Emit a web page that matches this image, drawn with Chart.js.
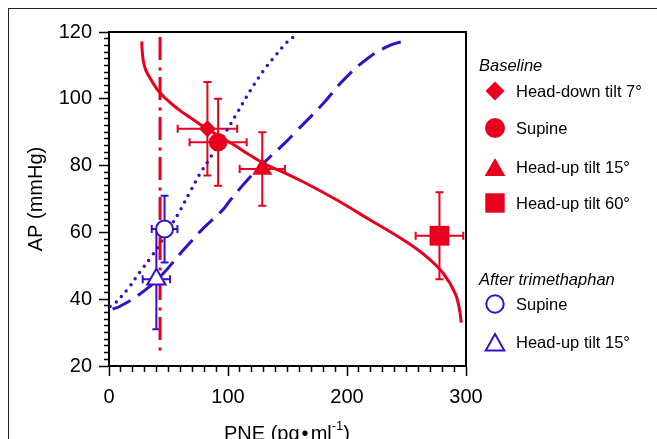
<!DOCTYPE html>
<html>
<head>
<meta charset="utf-8">
<script src="https://cdn.jsdelivr.net/npm/chart.js@4/dist/chart.umd.min.js"></script>
<style>
  body { margin: 0; background: #fff; }
  #wrap { position: relative; width: 657px; height: 439px; overflow: hidden; font-family: "Liberation Sans", Arial, sans-serif; }
  #frame { position: absolute; left: 8px; top: 8px; width: 800px; height: 600px; border-left: 1.5px solid #222; border-top: 1.5px solid #222; }
  canvas { position: absolute; left: 0; top: 0; }
  .lg { position: absolute; font-size: 16.5px; color: #000; white-space: nowrap; line-height: 20px; transform: translateY(-50%); }
  .hd { font-style: italic; }
  .mk { position: absolute; width: 22px; height: 22px; }
  #xtitle { position: absolute; left: 187px; width: 200px; top: 420px; text-align: center; font-size: 20px; white-space: nowrap; }
  #xtitle .dot { margin: 0 2px; }
  #xtitle sup { font-size: 13px; position: relative; top: -2px; }
</style>
</head>
<body>
<div id="wrap">
  <div id="frame"></div>
  <canvas id="chart" width="657" height="439"></canvas>
  <div id="xtitle">PNE (pg<span class="dot">•</span>ml<sup>-1</sup>)</div>
  <div id="legend"></div>
</div>
<script>
const RED = '#e8001e';
const BLUE = '#3510c8';

// baseline measurements (mean, error)
const baseLabels = ['Head-down tilt 7°', 'Supine', 'Head-up tilt 15°', 'Head-up tilt 60°'];
const basePNE = [82.7, 91.7, 128.8, 277.7];
const basePNEerr = [25, 24, 19, 20];
const baseAP = [91, 87, 79, 59];
const baseAPerr = [14, 13, 11, 13];

// after trimethaphan
const trimLabels = ['Supine', 'Head-up tilt 15°'];
const trimPNE = [46.7, 39.8];
const trimPNEerr = [10.8, 11.5];
const trimAP = [61, 46];
const trimAPerr = [10, 15];

// fitted curves
const redCurvePNE = [27.5, 28, 29, 31, 34.5, 43, 57, 71, 81, 104.5, 118.6, 132, 146.6, 163.4, 191.5, 219.5, 247.5, 267, 281, 291, 294.5, 296];
const redCurveAP = [117.2, 114, 111, 108.5, 106.2, 101.7, 97.2, 93.7, 91.3, 86.3, 83.1, 80.3, 78, 75.1, 69.7, 63.7, 57.7, 52.7, 47.7, 41.7, 37, 33];
const thresholdPNE = [42.9, 42.9];
const thresholdAP = [118.5, 24.5];
const dottedPNE = [1, 3.6, 16, 26, 34.5, 43, 58, 68, 76.5, 86.4, 99, 107.4, 118.6, 129.8, 141, 149.5, 159.2];
const dottedAP = [37.8, 38.2, 43.2, 48.2, 52.2, 56.7, 65.5, 72.1, 77.6, 83.1, 90.6, 95.6, 102.4, 108.4, 113.4, 116.9, 119.6];
const dashedPNE = [3, 9.3, 24.6, 42.9, 62.5, 80, 96, 102, 118.6, 135, 147, 158, 180, 197, 217, 236, 250.4];
const dashedAP = [37, 37.9, 41.2, 46.7, 54.7, 61.5, 66.9, 69.7, 76.6, 82.5, 86.5, 90.5, 98.6, 105.6, 112, 116, 117.5];

const yTicks = [20, 40, 60, 80, 100, 120];
const xTicks = [0, 100, 200, 300];

function pts(xs, ys) {
    return xs.map(function(x, i) { return {x: x, y: ys[i]}; });
}

const baseStyles = [
    {pointStyle: 'rectRot', radius: 8.5},
    {pointStyle: 'circle', radius: 9.3},
    {pointStyle: 'triangle', radius: 11.5},
    {pointStyle: 'rect', radius: 14}
];
const trimStyles = [
    {pointStyle: 'circle', radius: 8.5},
    {pointStyle: 'triangle', radius: 10.5}
];

let datasets = [];
baseLabels.forEach(function(lab, i) {
    datasets.push({
        label: 'Baseline ' + lab,
        data: [{x: basePNE[i], y: baseAP[i]}],
        showLine: false,
        pointStyle: baseStyles[i].pointStyle,
        pointRadius: baseStyles[i].radius,
        pointBackgroundColor: RED,
        pointBorderColor: RED,
        pointBorderWidth: 0,
        order: 1
    });
});
trimLabels.forEach(function(lab, i) {
    datasets.push({
        label: 'Trimethaphan ' + lab,
        data: [{x: trimPNE[i], y: trimAP[i]}],
        showLine: false,
        pointStyle: trimStyles[i].pointStyle,
        pointRadius: trimStyles[i].radius,
        pointBackgroundColor: '#fff',
        pointBorderColor: BLUE,
        pointBorderWidth: 2,
        order: 1
    });
});
datasets.push({
    label: 'red curve', data: pts(redCurvePNE, redCurveAP), showLine: true,
    borderColor: RED, borderWidth: 3, pointRadius: 0, tension: 0.4, order: 2
});
datasets.push({
    label: 'threshold', data: pts(thresholdPNE, thresholdAP), showLine: true,
    borderColor: RED, borderWidth: 3, borderDash: [23, 7.5, 3, 6.5], pointRadius: 0, order: 3
});
datasets.push({
    label: 'dotted', data: pts(dottedPNE, dottedAP), showLine: true,
    borderColor: BLUE, borderWidth: 3.5, borderDash: [0, 7.6], borderCapStyle: 'round',
    pointRadius: 0, tension: 0.4, order: 3
});
datasets.push({
    label: 'dashed', data: pts(dashedPNE, dashedAP), showLine: true,
    borderColor: BLUE, borderWidth: 3, borderDash: [20, 9], pointRadius: 0, tension: 0.4, order: 3
});

// error bars with caps, under the markers
const errorBars = {
    id: 'errorBars',
    beforeDatasetsDraw(chart) {
        const ctx = chart.ctx;
        const xs = chart.scales.x, ys = chart.scales.y;
        function bar(x, y, ex, ey, color) {
            const px = xs.getPixelForValue(x), py = ys.getPixelForValue(y);
            const x1 = xs.getPixelForValue(x - ex), x2 = xs.getPixelForValue(x + ex);
            const y1 = ys.getPixelForValue(y + ey), y2 = ys.getPixelForValue(y - ey);
            const c = 4;
            ctx.save();
            ctx.strokeStyle = color;
            ctx.lineWidth = 2;
            ctx.beginPath();
            ctx.moveTo(x1, py); ctx.lineTo(x2, py);
            ctx.moveTo(px, y1); ctx.lineTo(px, y2);
            ctx.moveTo(x1, py - c); ctx.lineTo(x1, py + c);
            ctx.moveTo(x2, py - c); ctx.lineTo(x2, py + c);
            ctx.moveTo(px - c, y1); ctx.lineTo(px + c, y1);
            ctx.moveTo(px - c, y2); ctx.lineTo(px + c, y2);
            ctx.stroke();
            ctx.restore();
        }
        basePNE.forEach(function(v, i) { bar(v, baseAP[i], basePNEerr[i], baseAPerr[i], RED); });
        trimPNE.forEach(function(v, i) { bar(v, trimAP[i], trimPNEerr[i], trimAPerr[i], BLUE); });
    },
    afterDraw(chart) {
        // top and right edges of the plot box
        const a = chart.chartArea, ctx = chart.ctx;
        ctx.save();
        ctx.strokeStyle = '#000';
        ctx.lineWidth = 2;
        ctx.beginPath();
        ctx.moveTo(a.left, a.top); ctx.lineTo(a.right, a.top); ctx.lineTo(a.right, a.bottom);
        ctx.stroke();
        ctx.restore();
    }
};

const tickFont = {family: '"Liberation Sans", Arial, sans-serif', size: 20};

const chart = new Chart(document.getElementById('chart'), {
    type: 'scatter',
    data: {datasets: datasets},
    plugins: [errorBars],
    options: {
        responsive: false,
        animation: false,
        devicePixelRatio: 1,
        layout: {padding: {left: 0, top: 32, right: 191, bottom: 0}},
        plugins: {legend: {display: false}, tooltip: {enabled: false}},
        scales: {
            x: {
                type: 'linear', min: 0, max: 300,
                ticks: {
                    stepSize: 10, autoSkip: false, maxRotation: 0, padding: 9,
                    color: '#000', font: tickFont,
                    callback: function(v) { return xTicks.includes(v) ? v : ''; }
                },
                grid: {
                    drawOnChartArea: false, tickLength: 10, tickColor: '#000', tickWidth: 1.5,
                    tickBorderDash: function(c) { return (c.tick && !xTicks.includes(c.tick.value)) ? [5, 20] : []; }
                },
                border: {color: '#000', width: 2},
                afterFit: function(s) { s.height = 73; }
            },
            y: {
                type: 'linear', min: 20, max: 120,
                ticks: {
                    stepSize: 2, autoSkip: false, padding: 7,
                    color: '#000', font: tickFont,
                    callback: function(v) { return yTicks.includes(v) ? v : ''; }
                },
                grid: {
                    drawOnChartArea: false, tickLength: 10, tickColor: '#000', tickWidth: 1.5,
                    tickBorderDash: function(c) { return (c.tick && !yTicks.includes(c.tick.value)) ? [5, 5] : []; },
                    tickBorderDashOffset: function(c) { return (c.tick && !yTicks.includes(c.tick.value)) ? 5 : 0; }
                },
                border: {color: '#000', width: 2},
                title: {display: true, text: 'AP (mmHg)', color: '#000', font: tickFont, padding: {top: 24, bottom: 0}},
                afterFit: function(s) { s.width = 109; }
            }
        }
    }
});

// legend
const legendRows = [
    {type: 'head', text: 'Baseline', y: 65},
    {type: 'diamond', text: baseLabels[0], y: 91},
    {type: 'circle', text: baseLabels[1], y: 128.3},
    {type: 'triangle', text: baseLabels[2], y: 166.7},
    {type: 'square', text: baseLabels[3], y: 203.3},
    {type: 'head', text: 'After trimethaphan', y: 279.3},
    {type: 'ocircle', text: trimLabels[0], y: 304.3},
    {type: 'otriangle', text: trimLabels[1], y: 341.7}
];
const shapes = {
    diamond: '<polygon points="11,1.5 20.5,11 11,20.5 1.5,11" fill="' + RED + '"/>',
    circle: '<circle cx="11" cy="11" r="10" fill="' + RED + '"/>',
    triangle: '<polygon points="11,2 21.3,20 0.7,20" fill="' + RED + '"/>',
    square: '<rect x="1.3" y="1.3" width="19.4" height="19.4" fill="' + RED + '"/>',
    ocircle: '<circle cx="11" cy="11" r="8.7" fill="#fff" stroke="' + BLUE + '" stroke-width="2"/>',
    otriangle: '<polygon points="11,3 20.3,19.6 1.7,19.6" fill="#fff" stroke="' + BLUE + '" stroke-width="2"/>'
};
const lg = document.getElementById('legend');
legendRows.forEach(function(r) {
    const t = document.createElement('div');
    t.className = 'lg' + (r.type == 'head' ? ' hd' : '');
    t.textContent = r.text;
    t.style.left = (r.type == 'head' ? 479 : 516) + 'px';
    t.style.top = r.y + 'px';
    lg.appendChild(t);
    if (r.type != 'head') {
        const m = document.createElement('div');
        m.className = 'mk';
        m.style.left = (495 - 11) + 'px';
        m.style.top = (r.y - 11) + 'px';
        m.innerHTML = '<svg width="22" height="22" viewBox="0 0 22 22">' + shapes[r.type] + '</svg>';
        lg.appendChild(m);
    }
});
</script>
</body>
</html>
